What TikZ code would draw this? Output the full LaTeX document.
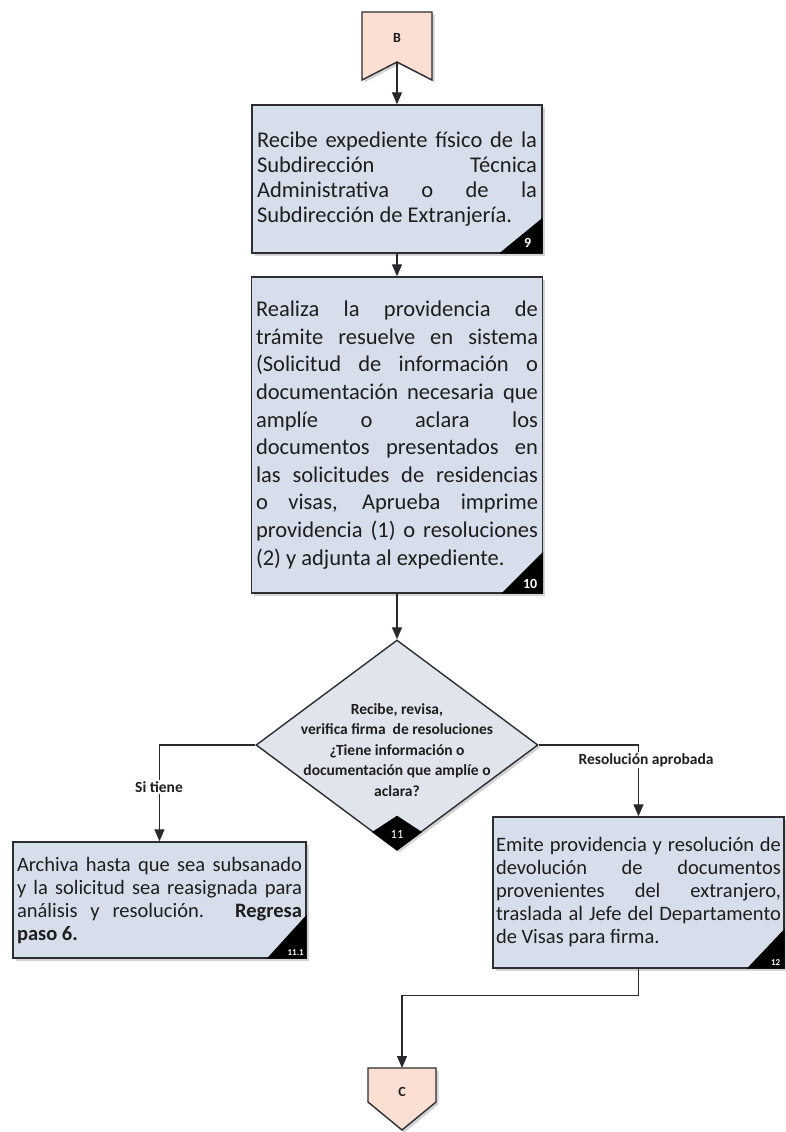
\documentclass[tikz,border=0pt]{standalone}
\usepackage{fontspec}
\setmainfont{Carlito}
\usetikzlibrary{arrows.meta,shapes.geometric,shadows}
\definecolor{boxfill}{RGB}{214,222,236}
\definecolor{decfill}{RGB}{224,228,236}
\definecolor{pinkfill}{RGB}{250,223,210}
\definecolor{bord}{RGB}{45,45,50}
\definecolor{lin}{RGB}{40,40,45}
\definecolor{txt}{RGB}{30,30,30}
\tikzset{
  shad/.style={drop shadow={shadow xshift=2.5pt,shadow yshift=-2.5pt,opacity=0.35,fill=gray}},
  proc/.style={rectangle, draw=bord, line width=1.4pt, fill=boxfill, shad, align=justify, inner ysep=0pt, text=txt,
    execute at begin node={\tolerance=10000\hyphenpenalty=10000\exhyphenpenalty=10000\hbadness=10000}},
  arr/.style={draw=lin, line width=1.3pt, -{Triangle[length=12pt,width=10pt]}},
  lbl/.style={fill=white, inner sep=1.5pt, text=txt, font=\bfseries\fontsize{15.5}{18}\selectfont},
  numlbl/.style={text=white, inner sep=0pt},
  conn/.style={draw=bord, line width=1.4pt, fill=pinkfill, shad},
}
\begin{document}
\begin{tikzpicture}[x=1pt,y=-1pt]
\useasboundingbox (0,0) rectangle (785,1132);

% off-page connector B
\draw[conn] (362,12) -- (432,12) -- (432,80) -- (397,62) -- (362,80) -- cycle;
\node[text=txt, font=\bfseries\fontsize{14}{14}\selectfont] (lB) at (397,38) {B};
\coordinate (Bn) at (397,62);

% box 9
\node[proc, text width=280pt, inner xsep=5pt, minimum height=148pt,
      font=\fontsize{22.5}{25}\selectfont] (b9) at (397,179)
 {Recibe expediente físico de la\linebreak Subdirección Técnica\linebreak Administrativa o de la\linebreak Subdirección de Extranjería.};
\fill[black] (b9.south east) -- ++(-44,0) -- ++(44,-36) -- cycle;
\node[numlbl, font=\bfseries\fontsize{14}{14}\selectfont] (n9) at ([xshift=-15pt,yshift=11pt]b9.south east) {9};

% box 10
\node[proc, text width=282pt, inner xsep=4.5pt, minimum height=316pt,
      font=\fontsize{22.5}{27.6}\selectfont] (b10) at (397,435)
 {Realiza la providencia de\linebreak trámite resuelve en sistema\linebreak (Solicitud de información o\linebreak documentación necesaria que\linebreak amplíe o aclara los\linebreak documentos presentados en\linebreak las solicitudes de residencias\linebreak o visas, Aprueba imprime\linebreak providencia (1) o resoluciones\linebreak (2) y adjunta al expediente.};
\fill[black] (b10.south east) -- ++(-42,0) -- ++(42,-42) -- cycle;
\node[numlbl, font=\bfseries\fontsize{14}{14}\selectfont] (n10) at ([xshift=-13pt,yshift=10pt]b10.south east) {10};

% decision 11
\node[diamond, draw=bord, line width=1.4pt, fill=decfill, shad, minimum width=282pt, minimum height=210pt, inner sep=0pt] (d11) at (397,745) {};
\node[text=txt, font=\bfseries\fontsize{15.5}{20.5}\selectfont, align=center, inner sep=0pt] (q11) at (397,750)
 {Recibe, revisa,\\ verifica firma \ de resoluciones\\ ¿Tiene información o\\ documentación que amplíe o\\ aclara?};
\fill[black] (d11.south) -- ++(-25,-18.6) -- ++(25,-16.4) -- ++(25,16.4) -- cycle;
\node[numlbl, font=\fontsize{12.5}{12.5}\selectfont] (n11) at (397,834) {11};

% box 11.1
\node[proc, text width=285pt, inner xsep=4pt, minimum height=116pt,
      font=\fontsize{20.5}{23}\selectfont] (b111) at (159.5,900)
 {Archiva hasta que sea subsanado\linebreak y la solicitud sea reasignada para\linebreak análisis y resolución. \textbf{Regresa}\linebreak \textbf{paso 6.}};
\fill[black] (b111.south east) -- ++(-40,0) -- ++(40,-44) -- cycle;
\node[numlbl, font=\bfseries\fontsize{9}{9}\selectfont] (n111) at ([xshift=-11pt,yshift=6pt]b111.south east) {11.1};

% box 12
\node[proc, text width=285pt, inner xsep=3pt, minimum height=151pt,
      font=\fontsize{20.5}{23}\selectfont] (b12) at (638.5,892.5)
 {Emite providencia y resolución de\linebreak devolución de documentos\linebreak provenientes del extranjero,\linebreak traslada al Jefe del Departamento\linebreak de Visas para firma.};
\fill[black] (b12.south east) -- ++(-38,0) -- ++(38,-40) -- cycle;
\node[numlbl, font=\bfseries\fontsize{9}{9}\selectfont] (n12) at ([xshift=-9pt,yshift=6pt]b12.south east) {12};

% off-page connector C
\draw[conn] (368,1068) -- (436,1068) -- (436,1102) -- (402,1130) -- (368,1102) -- cycle;
\node[text=txt, font=\bfseries\fontsize{14}{14}\selectfont] (lC) at (402,1092) {C};
\coordinate (Ct) at (402,1068);

% connectors
\draw[arr] (Bn) -- (b9.north);
\draw[arr] (b9.south) -- (b10.north);
\draw[arr] (b10.south) -- (d11.north);
\draw[arr] (d11.west) -| (b111.north);
\node[lbl] (ls) at (159,787) {Si tiene};
\draw[arr] (d11.east) -| (b12.north);
\node[lbl] (lr) at (646,760) {Resolución aprobada};
\draw[arr] (b12.south) -- ++(0,27) -| (Ct);
\end{tikzpicture}
\end{document}
